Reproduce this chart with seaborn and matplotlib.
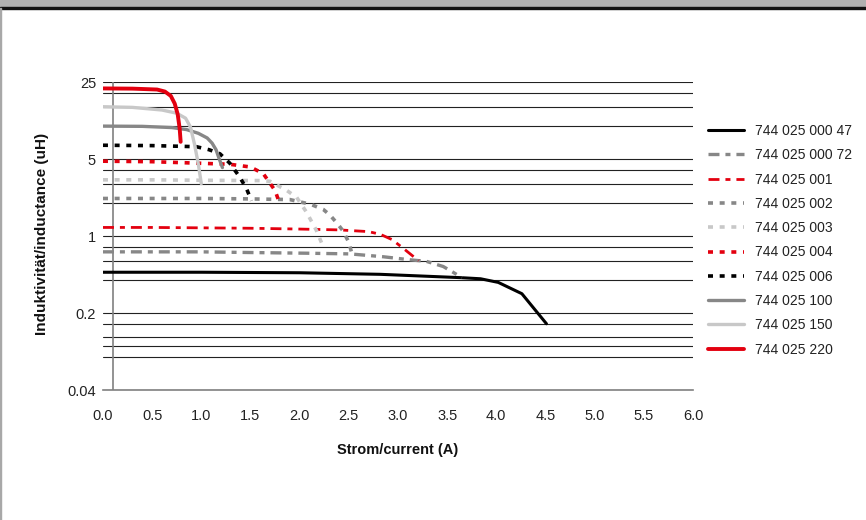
import numpy as np
import pandas as pd
import seaborn as sns
import matplotlib.pyplot as plt
from matplotlib.patches import Rectangle
from matplotlib.ticker import FixedLocator, NullFormatter

# Strom (A) und Induktivitaet (uH)
i_47 = [0, 1.0, 2.0, 2.82, 3.63, 3.84, 4.02, 4.26, 4.51]
l_47 = [0.47, 0.47, 0.465, 0.45, 0.42, 0.41, 0.38, 0.30, 0.16]

i_72 = [0, 0.5, 1.0, 1.5, 2.07, 2.51, 2.85, 3.12, 3.29, 3.46, 3.56, 3.65]
l_72 = [0.72, 0.72, 0.72, 0.71, 0.70, 0.69, 0.65, 0.61, 0.59, 0.53, 0.47, 0.42]

i_001 = [0, 0.5, 1.0, 1.5, 2.0, 2.4, 2.7, 2.82, 2.94, 3.05, 3.16, 3.21]
l_001 = [1.2, 1.2, 1.19, 1.18, 1.16, 1.14, 1.1, 1.04, 0.93, 0.78, 0.65, 0.60]

i_002 = [0, 0.5, 1.0, 1.5, 1.9, 2.11, 2.24, 2.31, 2.39, 2.44, 2.50, 2.53]
l_002 = [2.2, 2.2, 2.2, 2.18, 2.15, 1.95, 1.75, 1.55, 1.28, 1.12, 0.88, 0.70]

i_003 = [0, 0.5, 1.0, 1.6, 1.70, 1.87, 1.97, 2.07, 2.17, 2.24]
l_003 = [3.25, 3.25, 3.22, 3.2, 3.15, 2.6, 2.25, 1.65, 1.13, 0.80]

i_004 = [0, 0.5, 0.82, 1.29, 1.5, 1.63, 1.75, 1.80]
l_004 = [4.8, 4.75, 4.65, 4.5, 4.25, 3.7, 2.6, 1.95]

i_006 = [0, 0.5, 0.95, 1.08, 1.19, 1.29, 1.39, 1.46, 1.51]
l_006 = [6.7, 6.65, 6.5, 6.1, 5.6, 4.6, 3.45, 2.7, 2.1]

i_100 = [0, 0.4, 0.7, 0.85, 0.97, 1.06, 1.11, 1.15, 1.18, 1.215]
l_100 = [10.0, 9.95, 9.7, 9.3, 8.6, 7.8, 7.0, 6.1, 5.1, 4.2]

i_150 = [0, 0.3, 0.6, 0.75, 0.84, 0.89, 0.93, 0.97, 1.0]
l_150 = [15.0, 14.8, 14.0, 13.1, 11.8, 9.8, 6.9, 4.5, 3.0]

i_220 = [0, 0.3, 0.55, 0.63, 0.69, 0.73, 0.76, 0.78, 0.79]
l_220 = [22.0, 21.9, 21.5, 20.6, 18.8, 16.0, 12.8, 9.5, 7.2]

y_major = [0.04, 0.2, 1, 5, 25]
y_labels = ["0.04", "0.2", "1", "5", "25"]
y_minor = [0.08, 0.1, 0.12, 0.16, 0.4, 0.6, 0.8, 2, 3, 4, 10, 15, 20]
x_ticks = np.arange(0, 6.01, 0.5)

RED = "#e3000f"
GRAY = "#878787"
LIGHT = "#c8c8c8"
DOT = (3.6, 4.8)
DASHDOT = (7.9, 4.3, 3.6, 4.3)

series = [
    ("744 025 000 47", i_47, l_47, "black", 2.2, None),
    ("744 025 000 72", i_72, l_72, GRAY, 2.4, DASHDOT),
    ("744 025 001", i_001, l_001, RED, 2.0, DASHDOT),
    ("744 025 002", i_002, l_002, GRAY, 2.6, DOT),
    ("744 025 003", i_003, l_003, LIGHT, 2.6, DOT),
    ("744 025 004", i_004, l_004, RED, 2.6, DOT),
    ("744 025 006", i_006, l_006, "black", 2.6, DOT),
    ("744 025 100", i_100, l_100, GRAY, 2.4, None),
    ("744 025 150", i_150, l_150, LIGHT, 2.4, None),
    ("744 025 220", i_220, l_220, RED, 2.8, None),
]

sns.set_theme(style="white")
plt.rcParams["font.family"] = ["Liberation Sans", "DejaVu Sans"]
plt.rcParams["lines.scale_dashes"] = False

fig = plt.figure(figsize=(8.66, 5.2), dpi=100)
ax = fig.add_axes([0.1189, 0.25, 0.6813, 0.5917])

for name, xs, ys, col, lw, dash in series:
    df = pd.DataFrame({"I": xs, "L": ys})
    kw = {} if dash is None else {"dashes": dash}
    sns.lineplot(data=df, x="I", y="L", color=col, linewidth=lw, label=name,
                 ax=ax, sort=False, solid_joinstyle="round", **kw)

ax.set_yscale("log", base=5)
ax.set_xlim(0, 6)
ax.set_ylim(0.04, 25)
ax.set_yticks(y_major)
ax.set_yticklabels(y_labels)
ax.yaxis.set_minor_locator(FixedLocator(y_minor))
ax.yaxis.set_minor_formatter(NullFormatter())
ax.set_xticks(x_ticks)
ax.set_xticklabels([f"{v:.1f}" for v in x_ticks])
ax.tick_params(axis="both", which="both", length=0, labelsize=10.5, colors="#222222")
ax.tick_params(axis="x", pad=14)
ax.tick_params(axis="y", pad=5)

ax.set_axisbelow(True)
ax.grid(True, which="both", axis="y", color="#222222", linewidth=0.8)
ax.grid(False, axis="x")
for s in ["left", "top", "right"]:
    ax.spines[s].set_visible(False)
ax.spines["bottom"].set_color("#808080")
ax.spines["bottom"].set_linewidth(1.2)
ax.axvline(0.1, color="#808080", linewidth=1.2, zorder=1.5)

ax.set_xlabel("")
ax.set_ylabel("")
fig.text(398 / 866, 1 - 450 / 520, "Strom/current (A)", ha="center", va="center",
         fontsize=10.5, fontweight="bold", color="#111111")
fig.text(42 / 866, 1 - 234 / 520, "Induktivität/inductance (uH)", ha="center", va="center",
         rotation=90, fontsize=11, fontweight="bold", color="#111111")

leg = ax.legend(loc="upper left", bbox_to_anchor=(708 / 866, 1 - 124 / 520),
                bbox_transform=fig.transFigure, frameon=False, fontsize=10,
                borderpad=0, borderaxespad=0, handlelength=2.6, handletextpad=0.75,
                labelspacing=0.74)
for t in leg.get_texts():
    t.set_color("#222222")

# Rahmen oben und links
fig.patches.append(Rectangle((0, 1 - 7 / 520), 1, 7 / 520, transform=fig.transFigure,
                             color="#b0b0b0", zorder=0))
fig.patches.append(Rectangle((0, 1 - 8.5 / 520), 1, 1.5 / 520, transform=fig.transFigure,
                             color="#111111", zorder=0))
fig.patches.append(Rectangle((0, 0), 1.0 / 866, 1 - 8 / 520, transform=fig.transFigure,
                             color="#a8a8a8", zorder=0))

fig.savefig("out.png", dpi=100)
plt.close()
